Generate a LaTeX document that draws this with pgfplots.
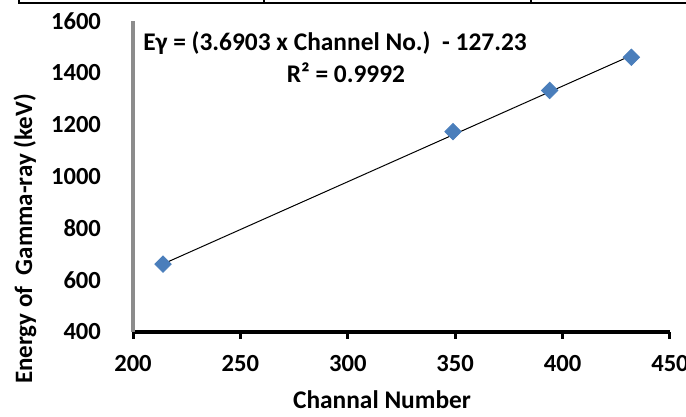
\documentclass[border=0pt]{standalone}
\usepackage{fontspec}
\setmainfont{Carlito}
\usepackage{pgfplots}
\pgfplotsset{compat=1.18}
\definecolor{mk}{HTML}{4A7EBB}
\definecolor{yax}{HTML}{8C8C8C}
\begin{document}
\begin{tikzpicture}
\path[use as bounding box] (0,0) rectangle (343pt,208.5pt);
% table border remnant at top
\draw[line width=1pt] (9pt,207pt) -- (343pt,207pt);
\draw[line width=1pt] (9.25pt,207pt) -- (9.25pt,208.5pt);
\draw[line width=1pt] (132pt,207pt) -- (132pt,208.5pt);
\draw[line width=1pt] (265.5pt,207pt) -- (265.5pt,208.5pt);
\begin{axis}[
  scale only axis,
  width=268.5pt, height=155.5pt,
  at={(66.5pt,42.5pt)}, anchor=south west,
  xmin=200, xmax=450, ymin=400, ymax=1600,
  xtick={200,250,...,450}, ytick={400,600,...,1600},
  axis x line*=bottom, axis y line*=left,
  x axis line style={black, line width=1.75pt},
  y axis line style={yax, line width=2pt},
  xtick style={black, line width=1.5pt},
  ytick style={draw=none},
  tick align=outside,
  major tick length=3.5pt,
  /pgf/number format/assume math mode=true,
  /pgf/number format/1000 sep={},
  ticklabel style={font=\fontsize{12.3}{14}\selectfont\bfseries},
  yticklabel style={xshift=-9pt},
  xticklabel style={yshift=-4.5pt},
  clip=false,
]
\addplot[black, line width=0.5pt] coordinates {(214,662.5) (432,1466.9)};
\addplot[only marks, mark=square*, mark size=2.9pt, mark options={rotate=45, fill=mk, draw=mk}]
  coordinates {(214,662) (349,1173) (394,1332) (432,1460)};
\end{axis}
\node[font=\fontsize{12.7}{14}\selectfont\bfseries] at (167.5pt,187pt) {Eγ = (3.6903 x Channel No.)\ \ - 127.23};
\node[font=\fontsize{12.7}{14}\selectfont\bfseries] at (173pt,172pt) {R² = 0.9992};
\node[font=\fontsize{12.5}{14}\selectfont\bfseries, rotate=90] at (12.5pt,89pt) {Energy of\ \ Gamma-ray (keV)};
\node[font=\fontsize{12.7}{14}\selectfont\bfseries] at (191pt,8.5pt) {Channal Number};
\end{tikzpicture}
\end{document}
